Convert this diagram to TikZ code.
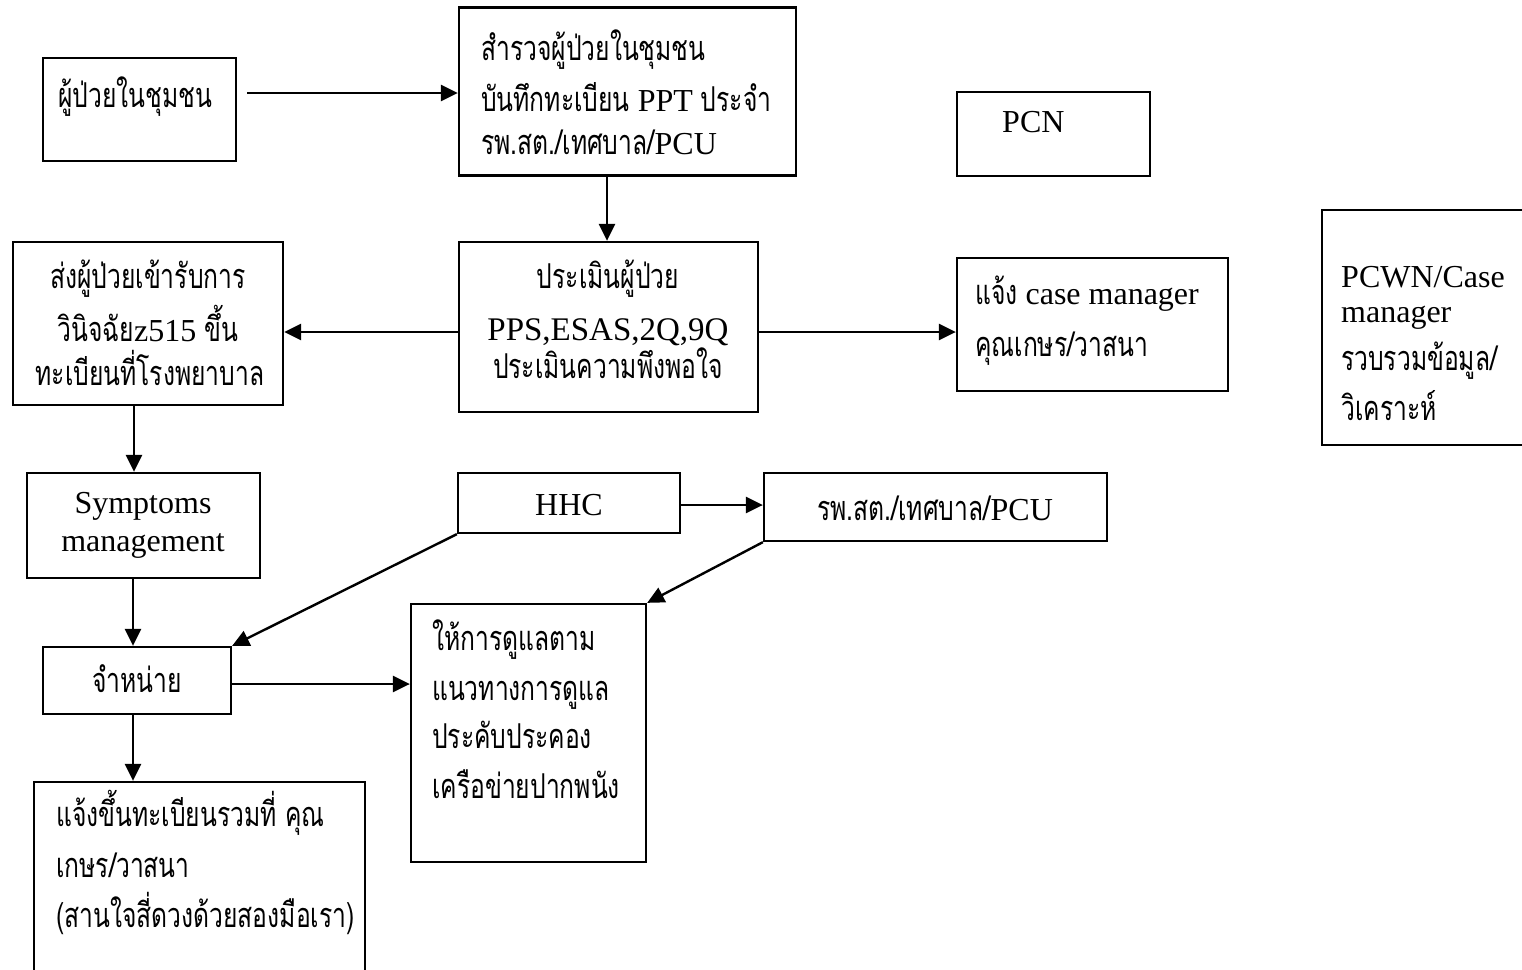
\documentclass[tikz,border=0pt]{standalone}
\usepackage{fontspec}
\setmainfont{Liberation Serif}
\newfontfamily\thaifont[Script=Thai,FakeStretch=0.72,Scale=1.07]{Loma}
\newcommand\tf[1]{{\thaifont #1}}
\usetikzlibrary{arrows.meta}
\begin{document}
\begin{tikzpicture}[x=1pt,y=-1pt,
  box/.style={draw, line width=2.3pt, inner sep=0pt},
  ln/.style={inner sep=0pt, font=\fontsize{32}{38}\selectfont},
  arr/.style={line width=2.4pt, -{Triangle[length=17pt,width=16pt]}}]
\useasboundingbox (0,0) rectangle (1522,969);
% boxes
\node[box, minimum width=193pt, minimum height=103pt] (b1) at (139.5,109.5) {};
\node[box, minimum width=337pt, minimum height=168pt] (b2) at (627.5,91.5) {};
\node[box, minimum width=299pt, minimum height=170pt] (b3) at (608.5,327) {};
\node[box, minimum width=270pt, minimum height=163pt] (b4) at (148,323.5) {};
\node[box, minimum width=271pt, minimum height=133pt] (b5) at (1092.5,324.5) {};
\node[box, minimum width=193pt, minimum height=84pt] (pcn) at (1053.5,134) {};
\node[box, minimum width=214pt, minimum height=235pt] (pcwn) at (1429,327.5) {};
\node[box, minimum width=233pt, minimum height=105pt] (b6) at (143.5,525.5) {};
\node[box, minimum width=222pt, minimum height=60pt] (hhc) at (569,503) {};
\node[box, minimum width=343pt, minimum height=68pt] (rps) at (935.5,507) {};
\node[box, minimum width=188pt, minimum height=67pt] (b7) at (137,680.5) {};
\node[box, minimum width=235pt, minimum height=258pt] (b8) at (528.5,733) {};
\node[box, minimum width=331pt, minimum height=218pt] (b9) at (199.5,891) {};
% texts
\node[ln, anchor=base west] (t1) at (58,107) {\tf{ผู้ป่วยในชุมชน}};
\node[ln, anchor=base west] (t2a) at (481,60) {\tf{สำรวจผู้ป่วยในชุมชน}};
\node[ln, anchor=base west] (t2b) at (481,111) {\tf{บันทึกทะเบียน} PPT \tf{ประจำ}};
\node[ln, anchor=base west] (t2c) at (481,154) {\tf{รพ.สต./เทศบาล/}PCU};
\node[ln, anchor=base] (t3a) at (608,288) {\tf{ประเมินผู้ป่วย}};
\node[ln, anchor=base, font=\fontsize{33}{38}\selectfont] (t3b) at (608,340) {PPS,ESAS,2Q,9Q};
\node[ln, anchor=base] (t3c) at (608,378) {\tf{ประเมินความพึงพอใจ}};
\node[ln, anchor=base] (t4a) at (148,288) {\tf{ส่งผู้ป่วยเข้ารับการ}};
\node[ln, anchor=base] (t4b) at (148,341) {\tf{วินิจฉัย}z515 \tf{ขึ้น}};
\node[ln, anchor=base] (t4c) at (150,385) {\tf{ทะเบียนที่โรงพยาบาล}};
\node[ln, anchor=base west] (t5a) at (975,304) {\tf{แจ้ง} case manager};
\node[ln, anchor=base west] (t5b) at (975,356) {\tf{คุณเกษร/วาสนา}};
\node[ln, anchor=base west] (tpcn) at (1002,132) {PCN};
\node[ln, anchor=base west] (tpw1) at (1341,287) {PCWN/Case};
\node[ln, anchor=base west] (tpw2) at (1341,322) {manager};
\node[ln, anchor=base west] (tpw3) at (1341,370) {\tf{รวบรวมข้อมูล/}};
\node[ln, anchor=base west] (tpw4) at (1341,420) {\tf{วิเคราะห์}};
\node[ln, anchor=base] (t6a) at (143,513) {Symptoms};
\node[ln, anchor=base] (t6b) at (143,551) {management};
\node[ln, anchor=base] (thhc) at (569,515) {HHC};
\node[ln, anchor=base] (trps) at (935,520) {\tf{รพ.สต./เทศบาล/}PCU};
\node[ln, anchor=base] (t7) at (137,692) {\tf{จำหน่าย}};
\node[ln, anchor=base west] (t8a) at (432,650) {\tf{ให้การดูแลตาม}};
\node[ln, anchor=base west] (t8b) at (432,700) {\tf{แนวทางการดูแล}};
\node[ln, anchor=base west] (t8c) at (432,748) {\tf{ประคับประคอง}};
\node[ln, anchor=base west] (t8d) at (432,798) {\tf{เครือข่ายปากพนัง}};
\node[ln, anchor=base west] (t9a) at (56,826) {\tf{แจ้งขึ้นทะเบียนรวมที่ คุณ}};
\node[ln, anchor=base west] (t9b) at (56,877) {\tf{เกษร/วาสนา}};
\node[ln, anchor=base west] (t9c) at (56,927) {\tf{(สานใจสี่ดวงด้วยสองมือเรา)}};
% connectors
\draw[arr] ([xshift=10pt]b1.east |- 0,93) -- (b2.west |- 0,93);
\draw[arr] (b2.south -| 607,0) -- (b3.north -| 607,0);
\draw[arr] (b3.west |- 0,332) -- (b4.east |- 0,332);
\draw[arr] (b3.east |- 0,332) -- (b5.west |- 0,332);
\draw[arr] (b4.south -| 134,0) -- (b6.north -| 134,0);
\draw[arr] (b6.south -| 133,0) -- (b7.north -| 133,0);
\draw[arr] (b7.south -| 133,0) -- (b9.north -| 133,0);
\draw[arr] (hhc.east |- 0,505) -- (rps.west |- 0,505);
\draw[arr] (hhc.south west) -- (b7.north east);
\draw[arr] (rps.south west) -- (b8.north east);
\draw[arr] (b7.east |- 0,684) -- (b8.west |- 0,684);
\end{tikzpicture}
\end{document}
